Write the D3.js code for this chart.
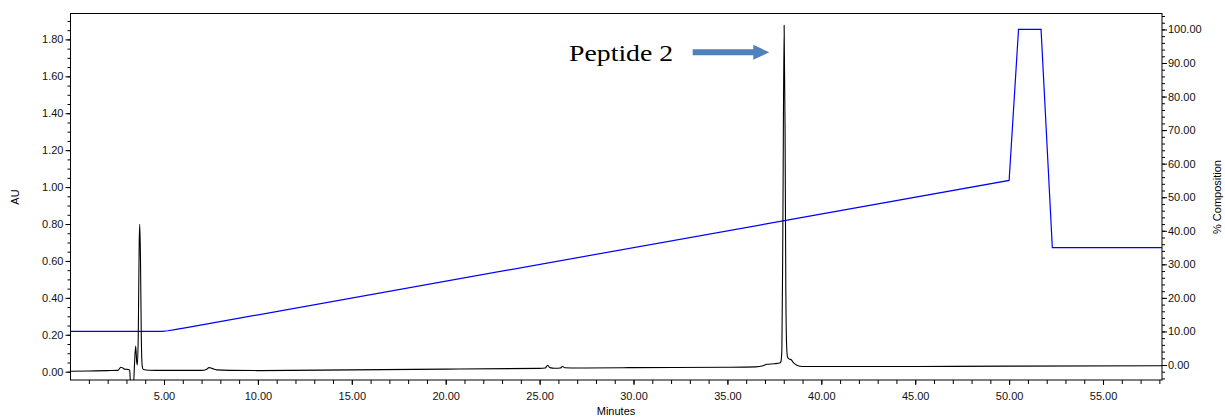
<!DOCTYPE html>
<html><head><meta charset="utf-8">
<script src="https://cdn.jsdelivr.net/npm/d3@7"></script>
<style>
body{margin:0;background:#fff;}
</style></head>
<body><svg id="c" width="1225" height="417"></svg>
<script>
// Chromatogram (AU) – time in minutes
const absTime = [0,1,2,2.55,2.62,2.70,2.78,2.85,2.95,3.10,3.17,3.22,3.38,3.42,3.49,3.55,3.58,3.63,3.68,3.71,3.75,3.79,3.84,3.90,4.20,5,7,7.25,7.40,7.55,7.80,8.5,10,15,20,25,25.30,25.43,25.55,25.80,26.10,26.22,26.35,27,30,35,36.5,36.9,37.1,37.5,37.8,37.85,37.90,37.95,38.02,38.07,38.11,38.15,38.20,38.30,38.40,38.50,38.70,39,45,50,58.14];
const absAU   = [0.002,0.004,0.006,0.007,0.015,0.024,0.022,0.016,0.013,0.012,0.008,-0.06,-0.06,0.02,0.139,0.05,0.036,0.2,0.7,0.798,0.6,0.2,0.03,0.012,0.008,0.007,0.007,0.012,0.022,0.018,0.01,0.007,0.006,0.010,0.014,0.018,0.020,0.035,0.022,0.019,0.020,0.028,0.021,0.020,0.022,0.024,0.026,0.032,0.040,0.043,0.047,0.055,0.12,0.75,1.877,1.30,0.45,0.15,0.08,0.068,0.065,0.05,0.035,0.028,0.028,0.030,0.032];
// Gradient (% composition)
const gradTime = [0,4.6,4.9,5.2,5.5,5.8,6.2,50,50.5,51.7,52.3,58.14];
const gradPct  = [10,10,10.05,10.2,10.45,10.75,11.15,55,100,100,35,35];
// Axis ticks
const xTicks = [5,10,15,20,25,30,35,40,45,50,55];
const yLTicks = [0,0.2,0.4,0.6,0.8,1.0,1.2,1.4,1.6,1.8];
const yRTicks = [0,10,20,30,40,50,60,70,80,90,100];
// Annotation
const annLabel = "Peptide 2";
const annTextAt = [26.57, 1.684];
const annArrowFrom = [33.15, 1.73];
const annArrowTo = [37.23, 1.73];

const SANS = "'Liberation Sans', Arial, sans-serif";
const svg = d3.select("#c");
const L = 70.5, R = 1162, T = 13, B = 380;
const x = d3.scaleLinear([0, 58.14], [70.1, R]);
const yL = d3.scaleLinear([-0.045, 1.943], [B, T]);
const yR = d3.scaleLinear([-4.47, 104.9], [B, T]);

svg.append("defs").append("clipPath").attr("id","clip")
  .append("rect").attr("x",L).attr("y",T).attr("width",R-L).attr("height",B-T);

// frame
svg.append("rect").attr("x",L).attr("y",T+0.5).attr("width",R-L).attr("height",B-T-0.5)
  .attr("fill","none").attr("stroke","#000").attr("stroke-width",1);

const fmt = d3.format(".2f");
function styleText(g){ g.selectAll("text").style("font-size","11px").style("font-family",SANS).attr("fill","#111"); }
// X axis
const gx = svg.append("g").attr("transform",`translate(0,${B})`);
gx.call(d3.axisBottom(x).tickValues(d3.range(1,59,1)).tickSize(4).tickFormat(""));
gx.select(".domain").remove();
const gx2 = svg.append("g").attr("transform",`translate(0,${B})`);
gx2.call(d3.axisBottom(x).tickValues(xTicks).tickSize(5).tickPadding(7).tickFormat(fmt));
gx2.select(".domain").remove();
styleText(gx2);

// Left axis
const gl = svg.append("g").attr("transform",`translate(${L},0)`);
gl.call(d3.axisLeft(yL).tickValues(d3.range(0,1.95,0.05)).tickSize(3).tickFormat(""));
gl.select(".domain").remove();
const gl2 = svg.append("g").attr("transform",`translate(${L},0)`);
gl2.call(d3.axisLeft(yL).tickValues(yLTicks).tickSize(5).tickPadding(2).tickFormat(fmt));
gl2.select(".domain").remove();
styleText(gl2);

// Right axis
const gr = svg.append("g").attr("transform",`translate(${R},0)`);
gr.call(d3.axisRight(yR).tickValues(d3.range(-4,105,2)).tickSize(3).tickFormat(""));
gr.select(".domain").remove();
const gr2 = svg.append("g").attr("transform",`translate(${R},0)`);
gr2.call(d3.axisRight(yR).tickValues(yRTicks).tickSize(5).tickPadding(1).tickFormat(fmt));
gr2.select(".domain").remove();
styleText(gr2);

// Axis titles
svg.append("text").attr("transform","translate(19,197) rotate(-90)").attr("text-anchor","middle")
  .style("font-family",SANS).style("font-size","11px").text("AU");
svg.append("text").attr("transform","translate(1221,197) rotate(-90)").attr("text-anchor","middle")
  .style("font-family",SANS).style("font-size","11px").text("% Composition");
svg.append("text").attr("x",616).attr("y",415).attr("text-anchor","middle")
  .style("font-family",SANS).style("font-size","11px").text("Minutes");

const plot = svg.append("g").attr("clip-path","url(#clip)");
// gradient
plot.append("path")
  .datum(gradTime.map((t,i)=>[t,gradPct[i]]))
  .attr("fill","none").attr("stroke","#0000ff").attr("stroke-width",1.2)
  .attr("d", d3.line().x(d=>x(d[0])).y(d=>yR(d[1])));
// chromatogram
plot.append("path")
  .datum(absTime.map((t,i)=>[t,absAU[i]]))
  .attr("fill","none").attr("stroke","#000").attr("stroke-width",1.1).attr("stroke-linejoin","round")
  .attr("d", d3.line().x(d=>x(d[0])).y(d=>yL(d[1])).curve(d3.curveMonotoneX));

// annotation
svg.append("text").attr("x",x(annTextAt[0])).attr("y",yL(annTextAt[1]))
  .style("font-family","'Liberation Serif', 'Times New Roman', serif").style("font-size","24px")
  .attr("textLength",104).attr("lengthAdjust","spacingAndGlyphs").attr("fill","#000").text(annLabel);
const ax0 = x(annArrowFrom[0]), ax1 = x(annArrowTo[0]), ay = yL(annArrowFrom[1]);
const headLen = 16, shaftH = 3, headH = 7.5;
svg.append("path").attr("fill","#4f81bd")
  .attr("d", `M${ax0},${ay-shaftH}L${ax1-headLen},${ay-shaftH}L${ax1-headLen},${ay-headH}L${ax1},${ay}L${ax1-headLen},${ay+headH}L${ax1-headLen},${ay+shaftH}L${ax0},${ay+shaftH}Z`);
</script></body></html>
